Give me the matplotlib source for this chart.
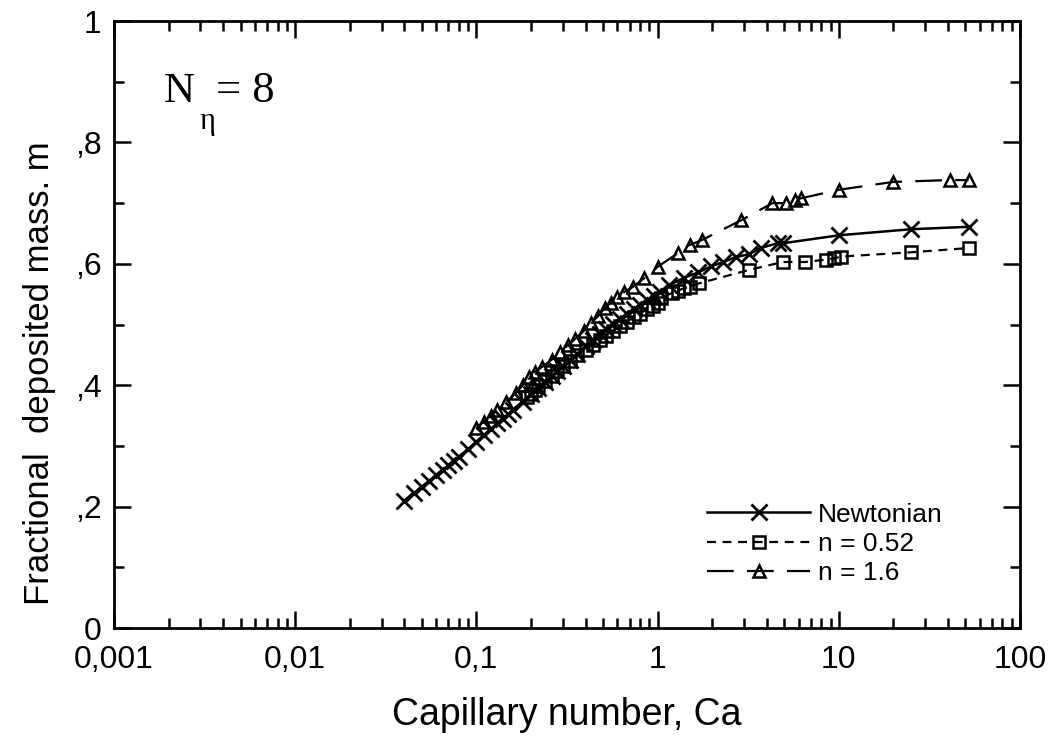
import matplotlib
matplotlib.use("Agg")
import matplotlib.pyplot as plt
from matplotlib.ticker import LogLocator, NullFormatter, MultipleLocator

# ---------------- data ----------------
newt_ca = [0.040, 0.045, 0.050, 0.055, 0.060, 0.065, 0.070, 0.075, 0.080, 0.090,
           0.10, 0.11, 0.12, 0.13, 0.14, 0.15, 0.16, 0.18, 0.20, 0.22,
           0.24, 0.26, 0.28, 0.30, 0.33, 0.36, 0.40, 0.44, 0.48, 0.52,
           0.57, 0.62, 0.68, 0.74, 0.80, 0.87, 0.95, 1.03, 1.16, 1.40,
           1.68, 1.98, 2.30, 2.70, 3.20, 3.70, 4.60, 4.95, 10.0, 25.0, 52.0]
newt_m = [0.210, 0.222, 0.233, 0.243, 0.252, 0.260, 0.268, 0.275, 0.282, 0.295,
          0.307, 0.318, 0.328, 0.337, 0.345, 0.353, 0.360, 0.373, 0.385, 0.396,
          0.406, 0.415, 0.423, 0.431, 0.442, 0.452, 0.464, 0.475, 0.484, 0.492,
          0.501, 0.509, 0.518, 0.526, 0.533, 0.540, 0.547, 0.554, 0.565, 0.577,
          0.586, 0.596, 0.603, 0.611, 0.616, 0.626, 0.634, 0.634, 0.647, 0.657, 0.661]

sq_ca = [0.19, 0.20, 0.21, 0.22, 0.24, 0.26, 0.28, 0.30, 0.33, 0.36,
         0.40, 0.44, 0.48, 0.52, 0.57, 0.62, 0.68, 0.74, 0.80, 0.87,
         0.94, 1.00, 1.05, 1.20, 1.30, 1.40, 1.50, 1.70, 3.20, 4.90,
         6.50, 8.50, 9.40, 10.3, 25.0, 52.0]
sq_m = [0.380, 0.385, 0.392, 0.398, 0.407, 0.416, 0.424, 0.431, 0.440, 0.449,
        0.458, 0.467, 0.474, 0.481, 0.489, 0.497, 0.505, 0.512, 0.518, 0.525,
        0.531, 0.536, 0.544, 0.552, 0.556, 0.560, 0.562, 0.568, 0.590, 0.603,
        0.603, 0.607, 0.609, 0.612, 0.619, 0.626]

tri_ca = [0.10, 0.11, 0.12, 0.13, 0.145, 0.165, 0.18, 0.195, 0.21, 0.23,
          0.26, 0.29, 0.32, 0.35, 0.39, 0.43, 0.47, 0.51, 0.55, 0.60,
          0.65, 0.73, 0.84, 1.00, 1.30, 1.50, 1.75, 2.90, 4.30, 5.10,
          5.70, 6.20, 10.0, 20.0, 41.0, 52.0]
tri_m = [0.330, 0.340, 0.350, 0.360, 0.372, 0.387, 0.400, 0.414, 0.422, 0.430,
         0.442, 0.455, 0.466, 0.476, 0.489, 0.503, 0.514, 0.527, 0.536, 0.545,
         0.553, 0.562, 0.576, 0.595, 0.618, 0.631, 0.639, 0.672, 0.700, 0.700,
         0.705, 0.708, 0.722, 0.735, 0.738, 0.738]

labels = ["Newtonian", "n = 0.52", "n = 1.6"]
xticks = [0.001, 0.01, 0.1, 1, 10, 100]
xticklabels = ["0,001", "0,01", "0,1", "1", "10", "100"]
yticks = [0, 0.2, 0.4, 0.6, 0.8, 1.0]
yticklabels = ["0", ",2", ",4", ",6", ",8", "1"]

# ---------------- figure ----------------
plt.rcParams['font.family'] = ['Liberation Sans', 'DejaVu Sans']
fig = plt.figure(figsize=(10.51, 7.38), dpi=100)
ax = fig.add_axes([0.1085, 0.149, 0.862, 0.8225])

ax.plot(newt_ca, newt_m, color='black', lw=1.8, ls='-', marker='x',
        ms=11, mew=2.0, label=labels[0])
ax.plot(sq_ca, sq_m, color='black', lw=1.6, ls=(0, (4, 3)), marker='s',
        ms=8, mew=1.8, fillstyle='none', label=labels[1])
ax.plot(tri_ca, tri_m, color='black', lw=1.6, ls=(0, (12, 6)), marker='^',
        ms=9, mew=1.8, fillstyle='none', label=labels[2])

ax.set_xscale('log')
ax.set_xlim(0.001, 100)
ax.set_ylim(0, 1)
ax.set_xticks(xticks)
ax.set_xticklabels(xticklabels)
ax.xaxis.set_minor_locator(LogLocator(base=10, subs=range(2, 10)))
ax.xaxis.set_minor_formatter(NullFormatter())
ax.set_yticks(yticks)
ax.set_yticklabels(yticklabels)
ax.yaxis.set_minor_locator(MultipleLocator(0.1))

ax.tick_params(which='both', direction='in', top=True, right=True, width=1.8,
               labelsize=23, colors='black')
ax.tick_params(which='major', length=12)
ax.tick_params(which='minor', length=7)
ax.tick_params(axis='x', which='major', pad=12)
ax.tick_params(axis='y', which='major', pad=9)
for s in ax.spines.values():
    s.set_linewidth(2.0)

ax.set_xlabel("Capillary number, Ca", fontsize=27, labelpad=16)
ax.set_ylabel("Fractional  deposited mass. m", fontsize=25)
ax.yaxis.set_label_coords(-0.064, 0.42)

# annotation N_eta = 8
ax.text(0.055, 0.866, "N", transform=ax.transAxes, fontsize=31,
        family='Liberation Serif', va='baseline', ha='left')
ax.text(0.094, 0.822, "\u03b7", transform=ax.transAxes, fontsize=22,
        family='Liberation Serif', va='baseline', ha='left')
ax.text(0.113, 0.866, "= 8", transform=ax.transAxes, fontsize=32,
        family='Liberation Serif', va='baseline', ha='left')

leg = ax.legend(loc='lower right', bbox_to_anchor=(0.935, 0.04), frameon=False,
                fontsize=19, handlelength=3.9, handletextpad=0.3,
                labelspacing=0.2, borderpad=0.2)

fig.savefig("out.png", dpi=100)
